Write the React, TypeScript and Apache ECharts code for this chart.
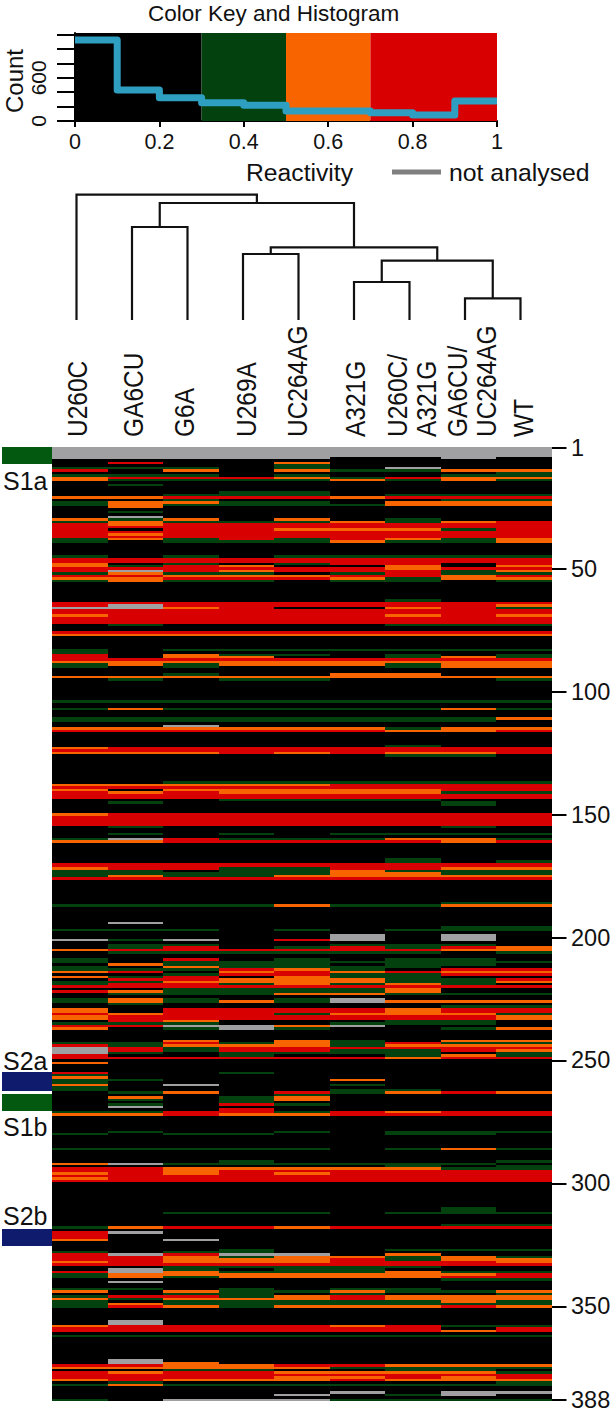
import React, { useEffect, useRef } from "react";
import * as echarts from "echarts";

const FONT = "'Liberation Sans', Arial, sans-serif";
const columns = ["U260C", "GA6CU", "G6A", "U269A", "UC264AG", "A321G", "U260C/\nA321G", "GA6CU/\nUC264AG", "WT"];
const labelX = [77, 133, 184, 246, 297, 355, 397, 457, 523];
const rowTicks = [1, 50, 100, 150, 200, 250, 300, 350, 388];
const ROWS = 388;

// Reactivity level of each code: k<0.3, g 0.3-0.5, o 0.5-0.7, r >0.7, a not analysed
const codeValue: Record<string, number> = { k: 0.1, g: 0.4, o: 0.6, r: 0.85, a: -1 };

const R = "rrrrrrrrr", O = "ooooooooo", G = "ggggggggg", A = "aaaaaaaaa";
const rowsA: [number, string][] = [
  [1, A], [2, A], [3, A], [4, A], [5, "aaaaakkak"], [7, "krkkokkkk"], [8, "kkkkgkkkk"], [9, "gggkgkakk"],
  [10, "rkokoggoo"], [11, "kkkkkkkkg"], [12, "gggkgkkgg"], [13, "orrrogroo"], [14, "oggggogog"], [16, "kgkkkkkkk"],
  [19, "kkkggkkkk"], [20, "kkgggkggg"], [21, "oorrrorrr"], [22, "kkgkkkkgg"], [23, "googgkooo"], [24, "goggggooo"],
  [25, "kokkkkkkk"], [27, "kgkkkkkkk"], [29, "kakkkkkkk"], [30, "ogokokgkk"], [31, "gogggogor"], [32, "rorrrrrrr"],
  [33, R], [34, "rkrrooogr"], [35, R], [36, "rorrrrrrr"], [37, R], [38, "gogrgrogo"], [39, "gkgggoggo"],
  [45, "gkgkggggg"], [46, R], [47, R], [48, "okgkgrrkr"], [49, "ogrokkoko"], [50, "rrrrrrorr"],
];
const rowsB: [number, string][] = [
  [51, "rarorrrgo"], [52, "goggkgrgg"], [53, "rrooorror"], [54, "oorrrogoo"], [55, "goggkggkg"], [63, "kkkkkkgkk"],
  [64, R], [65, "rarrrrrro"], [66, "aaorkkorg"], [67, R], [68, R], [69, "orrrrroro"], [70, R], [71, R], [72, R],
  [73, "kgkkkkggg"], [76, R], [77, O], [83, "gkggggggg"], [84, "gkkkkkkkk"], [85, "rkoggkgkg"], [86, "rkookkgog"],
  [87, R], [88, O], [89, "gogooogoo"], [90, "gkgkkkgoo"], [93, "kkgkkookk"], [94, O], [95, "kgkggkkkg"],
];
const rowsC: [number, string][] = [
  [104, G], [107, "gogggggog"], [111, "ggggggggo"], [112, "ggggggggk"], [114, "kkakkkkkk"], [115, "oooooogoo"],
  [116, "rrrrrroor"], [122, "kkkkkkgkk"], [123, "orrrrrrrr"], [124, R], [125, "ooororoor"], [126, "kkkkkkggk"],
  [137, "kkggggggg"], [138, "ooooorrrr"], [139, R], [140, "okooooorr"], [141, "roroooogg"], [142, R], [143, R],
  [144, "kkkggggkk"], [145, "kgkkkkkgk"], [146, "kkkkkkkgk"], [150, "orrrrrrrr"], [151, R], [152, R], [153, R], [154, R],
  [155, "kgkkkkkgk"], [158, "kgkgkgggg"], [160, "gargggoog"], [161, "oorrrrror"], [168, "kkkkkkgkk"], [169, "kkkkkkgkg"],
  [170, R], [171, R], [172, "orrggrroo"], [173, "ggkggoggg"], [174, "gggggoogg"], [175, "goggooooo"], [176, R],
  [186, "kkkkkkkgg"], [187, "ggggoggoo"], [194, "kakkkkkkk"], [196, "kkkkkkkgg"], [197, "gggkgkggg"],
  [199, "kkkkkakak"], [200, "kkkkkakak"],
];
const rowsD: [number, string][] = [
  [201, "agakrakak"], [203, "kggkkgggk"], [204, "kgrkgrgro"], [205, "orrrrrroo"], [206, "kggggggkg"], [209, "gkrkgkggk"],
  [210, "gkggggggg"], [211, "kogggkggk"], [212, "gkoggggkk"], [213, "gggrogkrr"], [214, "orkororoo"], [215, "kkgrrggrr"],
  [216, "ogrkoggkk"], [217, "krroooggr"], [218, "ggooooggo"], [219, "grrgogogk"], [220, R], [221, "kkggggokk"],
  [222, "roggggokk"], [223, "kgggooggg"], [225, "gogkgakkk"], [226, "gogogaooo"], [227, "kgkkkkkkk"], [228, "kkkkkkkgg"],
  [229, "okrrrrorr"], [230, "okrrrrorr"], [231, "rorrgooog"], [232, "orrrrrrro"], [233, "orrrrrrro"], [234, "krokkkggk"],
  [235, "gggkkgggk"], [236, "rraaoakkk"], [237, "okgagkkgo"], [242, "kkokogkoo"], [243, "ggrgogrgg"], [244, "rgooogooo"],
  [245, "argrrrrrr"], [246, "argrrggro"], [247, "agkggggkg"], [248, "rkkgkkgog"], [249, "rrrrrrorr"], [251, "okkkkkkkk"],
  [255, "rkkgkkkkk"], [256, "gkkkkkkkk"], [257, "okkkkkkkk"], [258, "ggkkkokkk"], [259, "gkkkkkkkk"], [260, "okakkgkkk"],
  [261, "gkkkkkkkk"], [262, "gkkkkggkk"], [263, "kgokrgoro"], [264, "kkkkgkkkk"], [265, "kokgokkkk"], [266, "kgkgokkkk"],
  [267, "kkkgkkkkk"], [268, "kgkrgkkkk"], [269, "kakkkkkkk"], [270, "kkkrkkkkk"], [271, "ggrrgrorr"], [272, "ooroorrrr"],
  [279, "kgkkgkggg"], [280, "gkggkkggk"], [286, "gggggkgog"], [291, "kkkgkkkkg"], [292, "oaggggggk"], [293, "kkkkkkgkg"],
  [294, "rrooooogg"], [295, "rrorrrrrr"], [296, "orororrrr"], [297, R], [298, "orrrrrrrr"], [299, R],
];
const rowsE: [number, string][] = [
  [310, "kkkkkkkgk"], [311, "kkkkkkkgk"], [312, "kkgggkggg"], [317, "kkkkkkkgg"], [318, "gorrorrrr"], [320, "rakkkkkkk"],
  [321, "rkkkkkkkk"], [322, "rkkkkkkkk"], [323, "okakkkkkk"], [327, "kkkgkkggg"], [328, "gkggkkkkk"], [329, "raraakokk"],
  [330, "rrogoogog"], [331, "rrooorgoo"], [332, "orooorrro"], [333, R], [334, "kkgggggkk"], [335, "kagkggkkk"],
  [336, "raogggogg"], [337, "gooooooor"], [338, "gogoooorr"], [339, "kkkkkkkgg"], [340, "kakkkkkkk"], [343, "ggkgkggkk"],
  [344, "okoggoggo"], [345, "kkggkgkkg"], [346, "grrgorooo"], [347, "ogooorooo"], [348, "gkgggggog"], [349, "goggggggg"],
  [350, "grogoooro"], [356, "kakkkkkkk"], [357, "kakkkkkkk"], [358, "orrrrorgg"], [359, "rrrrrrrkr"], [360, "rrrrrrror"],
  [362, G], [372, "kakkkkkkk"], [373, "kaokkkkkk"], [374, "rroorrooo"], [375, "ooooogggg"], [376, "kkggkkggk"],
  [377, "rorroooog"], [378, R], [379, "rrrrooror"], [380, "orooorooo"], [381, "kgkkkkkkg"], [382, "goggggggg"],
  [385, "kkkkkakaa"], [386, "kkkkakgak"], [388, "gkaaagggg"],
];

const sideBands = [
  { label: "S1a", from: 1, to: 7, color: "#03590f", labelY: 481 },
  { label: "S2a", from: 255, to: 262, color: "#0f1c6e", labelY: 1061 },
  { label: "S1b", from: 264, to: 270, color: "#03590f", labelY: 1127 },
  { label: "S2b", from: 319, to: 325, color: "#0f1c6e", labelY: 1216 },
];

// Colour key and histogram
const keyBreaks = [0, 0.3, 0.5, 0.7, 1];
const keyColors = ["#000000", "#03420f", "#f76400", "#d80000"];
const naColor = "#a0a0a2";
const codeColor: Record<string, string> = { k: keyColors[0], g: keyColors[1], o: keyColors[2], r: keyColors[3], a: naColor };
const histEdges = [0, 0.1, 0.2, 0.3, 0.4, 0.5, 0.6, 0.7, 0.8, 0.9, 1];
const histCounts = [1125, 430, 324, 254, 218, 139, 139, 115, 83, 278, 278];

// Dendrogram: leaves are negative (-1 is the first column), positive are earlier merges
const merges: [number, number, number][] = [
  [-8, -9, 21.7], [-6, -7, 38], [2, 1, 59.3], [-4, -5, 66], [4, 3, 72.7], [-2, -3, 93], [6, 5, 117], [-1, 7, 125.3],
];

function App() {
  const ref = useRef<HTMLDivElement>(null);
  useEffect(() => {
    document.body.style.margin = "0";
    const chart = echarts.init(ref.current!, null, { renderer: "svg" });

    const rowLookup = new Map<number, string>();
    [...rowsA, ...rowsB, ...rowsC, ...rowsD, ...rowsE].forEach(([r, s]) => rowLookup.set(r, s));
    // runs of equal rows per column: [column, firstRowIndex, lastRowIndex, value]
    const runs: any[] = [];
    for (let c = 0; c < columns.length; c++) {
      let start = 0;
      let prev = (rowLookup.get(1) || "kkkkkkkkk")[c];
      for (let r = 1; r <= ROWS; r++) {
        const code = r < ROWS ? (rowLookup.get(r + 1) || "kkkkkkkkk")[c] : "";
        if (code !== prev) {
          runs.push({ value: [c, start, r - 1, codeValue[prev]], fill: codeColor[prev] });
          start = r;
          prev = code;
        }
      }
    }
    const rowNames = Array.from({ length: ROWS }, (_, i) => String(i + 1));
    const tickIdx = new Set(rowTicks.map((t) => t - 1));

    const bandRect = (nCols: number, fillOf: (i: number) => string) => (params: any, api: any) => {
      const cs = params.coordSys;
      const bw = cs.width / nCols;
      const rh = cs.height / ROWS;
      const x0 = Math.round(cs.x + api.value(0) * bw);
      const x1 = Math.round(cs.x + (api.value(0) + 1) * bw);
      const y0 = Math.round(cs.y + api.value(1) * rh);
      const y1 = Math.round(cs.y + (api.value(2) + 1) * rh);
      return { type: "rect", shape: { x: x0, y: y0, width: x1 - x0, height: y1 - y0 }, style: { fill: fillOf(params.dataIndex) } };
    };

    // dendrogram segments
    const nodes: { x: number; h: number }[] = [];
    const pos = (id: number) => (id < 0 ? { x: -id - 1, h: 0 } : nodes[id - 1]);
    const dendroLines = merges.map(([a, b, h]) => {
      const pa = pos(a), pb = pos(b);
      nodes.push({ x: (pa.x + pb.x) / 2, h });
      return { coords: [[pa.x, pa.h], [pa.x, h], [pb.x, h], [pb.x, pb.h]] };
    });

    const text = (t: string, x: number, y: number, size: number, rot = 0, scaleY = 1) => ({
      type: "text", x, y, rotation: rot, scaleY, silent: true,
      style: { text: t, fontFamily: FONT, fontSize: size, fill: "#111", textAlign: "left", textVerticalAlign: "middle" },
    });

    const graphics: any[] = [
      text("Color Key and Histogram", 148, 13, 22.5),
      text("Count", 14, 113, 24, Math.PI / 2),
      text("Reactivity", 246, 172, 24.7),
      text("not analysed", 449, 172, 24.8),
      { type: "line", shape: { x1: 392, y1: 172, x2: 441, y2: 172 }, style: { stroke: "#808080", lineWidth: 5 } },
    ];
    columns.forEach((c, i) => {
      c.split("\n").forEach((l, j) => {
        graphics.push(text(l, labelX[i] + j * 29, 437, 24.5, Math.PI / 2, 1.15));
      });
    });
    sideBands.forEach((b) => graphics.push(text(b.label, 3, b.labelY, 25)));

    chart.setOption({
      animation: false,
      backgroundColor: "#fff",
      grid: [
        { left: 75, top: 33, width: 422, height: 88, outerBoundsMode: "none" },
        { left: 76.5, top: 190, width: 444, height: 130, outerBoundsMode: "none" },
        { left: 52, top: 447, width: 499.5, height: 954, show: true, backgroundColor: "#000", borderWidth: 0, outerBoundsMode: "none" },
        { left: 2, top: 447, width: 50, height: 954, outerBoundsMode: "none" },
      ],
      xAxis: [
        {
          gridIndex: 0, type: "value", min: 0, max: 1, interval: 0.2, splitLine: { show: false },
          axisLine: { lineStyle: { color: "#000", width: 2 } }, axisTick: { length: 6, lineStyle: { color: "#000", width: 2 } },
          axisLabel: { fontFamily: FONT, fontSize: 21.5, color: "#111", margin: 10, formatter: (v: number) => String(+v.toFixed(1)) },
        },
        { gridIndex: 1, type: "value", min: 0, max: 8, show: false },
        { gridIndex: 2, type: "category", data: columns, show: false },
        { gridIndex: 3, type: "category", data: ["side"], show: false },
      ],
      yAxis: [
        {
          gridIndex: 0, type: "value", min: 0, max: 1222, splitLine: { show: false },
          axisLine: { lineStyle: { color: "#000", width: 2 } },
          axisTick: { length: 18, customValues: [0, 200, 400, 600, 800, 1000, 1200], lineStyle: { color: "#000", width: 2 } },
          axisLabel: { customValues: [0, 600], rotate: 90, fontFamily: FONT, fontSize: 21, color: "#111", margin: 26 },
        },
        { gridIndex: 1, type: "value", min: 0, max: 130, show: false },
        {
          gridIndex: 2, type: "category", data: rowNames, inverse: true, position: "right", splitLine: { show: false },
          axisLine: { show: false },
          axisTick: { show: true, alignWithLabel: true, length: 15, interval: (i: number) => tickIdx.has(i), lineStyle: { color: "#000", width: 2 } },
          axisLabel: { interval: (i: number) => tickIdx.has(i), fontFamily: FONT, fontSize: 23.5, color: "#111", margin: 19.5, hideOverlap: false },
        },
        { gridIndex: 3, type: "category", data: rowNames, inverse: true, show: false },
      ],
      series: [
        {
          type: "line", xAxisIndex: 0, yAxisIndex: 0, step: "end", symbol: "none", z: 5,
          data: histEdges.map((e, i) => [e, histCounts[i]]),
          lineStyle: { color: "#2e9fc0", width: 7, join: "round" },
          markArea: {
            silent: true, z: 1,
            data: keyColors.map((color, i) => [
              { xAxis: keyBreaks[i], yAxis: 0, itemStyle: { color, opacity: 1 } },
              { xAxis: keyBreaks[i + 1], yAxis: 1222 },
            ]),
          },
        },
        {
          type: "lines", coordinateSystem: "cartesian2d", xAxisIndex: 1, yAxisIndex: 1, polyline: true,
          data: dendroLines, lineStyle: { color: "#111", width: 2.2, opacity: 1 }, silent: true,
        },
        {
          type: "custom", xAxisIndex: 2, yAxisIndex: 2, silent: true, clip: false, progressive: 0,
          data: runs.map((d) => d.value),
          encode: { x: 0, y: [1, 2] },
          renderItem: bandRect(columns.length, (i) => runs[i].fill),
        },
        {
          type: "custom", xAxisIndex: 3, yAxisIndex: 3, silent: true, clip: false, progressive: 0,
          data: sideBands.map((b) => [0, b.from - 1, b.to - 1]),
          encode: { x: 0, y: [1, 2] },
          renderItem: bandRect(1, (i) => sideBands[i].color),
        },
      ],
      graphic: { elements: graphics },
    });
    return () => chart.dispose();
  }, []);
  return <div ref={ref} style={{ position: "absolute", left: 0, top: 0, width: 611, height: 1417 }} />;
}

export default App;
